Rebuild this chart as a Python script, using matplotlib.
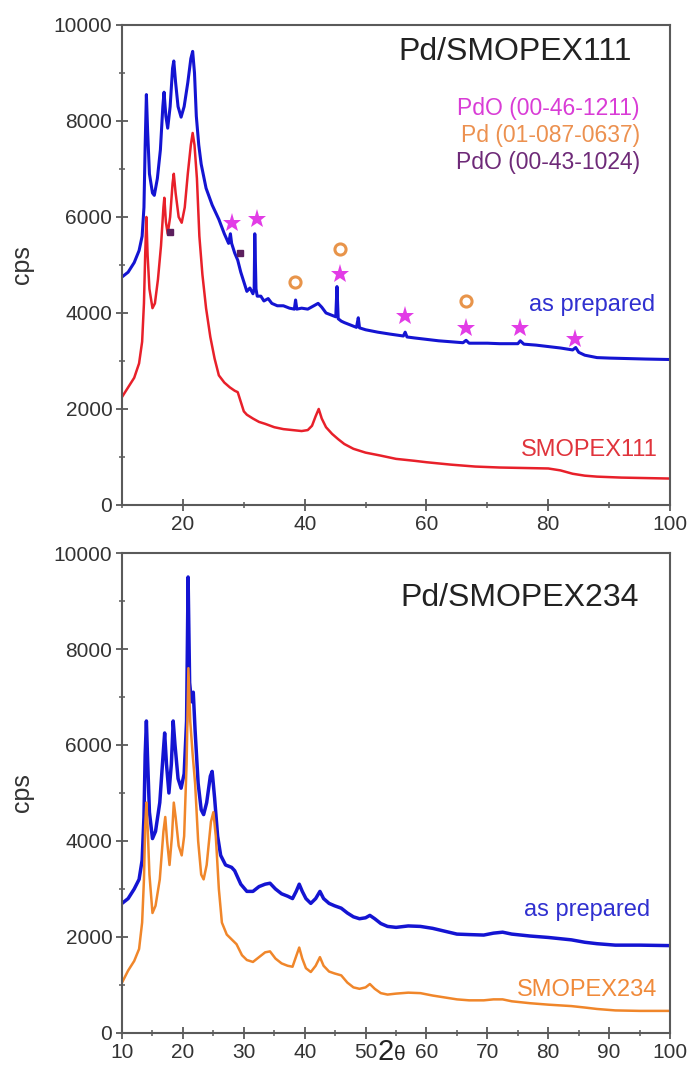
import matplotlib
matplotlib.use("Agg")
import matplotlib.pyplot as plt
from matplotlib.ticker import MultipleLocator

plt.rcParams['font.family'] = ['Liberation Sans', 'DejaVu Sans']

# ---------------- Top panel data: Pd/SMOPEX111 ----------------
top_prep_x = [10, 11, 12, 12.8, 13.3, 13.6, 13.8, 14.0, 14.2, 14.5, 15.0, 15.3, 15.8, 16.3, 16.7, 16.9,
              17.2, 17.5, 17.9, 18.3, 18.5, 18.8, 19.2, 19.7, 20.2, 20.8, 21.3, 21.6, 21.9, 22.2, 22.6,
              23.0, 23.8, 24.8, 25.9, 26.8, 27.5, 27.8, 28.0, 28.5, 29.0, 29.5, 30.0, 30.5, 31.0, 31.5,
              31.7, 31.8, 32.0, 32.2, 32.8, 33.3, 34.0, 34.6, 35.5, 36.5, 37.5, 38.3, 38.5, 38.7, 39.5,
              40.5, 41.5, 42.2, 42.8, 43.5, 44.5, 45.1, 45.3, 45.5, 46.0, 46.5, 47.5, 48.5, 48.8, 49.0,
              50, 52, 54, 56.2, 56.5, 56.8, 58, 60, 62, 64, 66, 66.5, 67, 70, 72, 75, 75.4, 76, 78, 80,
              82, 84, 84.5, 85, 86, 88, 90, 93, 96, 100]
top_prep_y = [4750, 4850, 5050, 5300, 5600, 6200, 7500, 8550, 7800, 6900, 6500, 6450, 6800, 7400, 8300, 8600,
              8100, 7850, 8300, 9100, 9250, 8800, 8300, 8080, 8300, 8800, 9300, 9450, 9000, 8100, 7500,
              7100, 6600, 6250, 5950, 5650, 5450, 5650, 5450, 5250, 5100, 4850, 4650, 4450, 4520, 4400,
              4500, 5650, 4500, 4350, 4350, 4250, 4300, 4200, 4150, 4150, 4100, 4080, 4270, 4080, 4100,
              4080, 4150, 4200, 4120, 4000, 3950, 3920, 4550, 3880, 3830, 3800, 3750, 3700, 3900, 3690,
              3650, 3600, 3560, 3520, 3600, 3500, 3480, 3450, 3420, 3400, 3380, 3430, 3370, 3370, 3360, 3360, 3420, 3350, 3330, 3300,
              3270, 3230, 3280, 3180, 3120, 3070, 3060, 3050, 3040, 3030]

top_smo_x = [10, 11, 12, 12.8, 13.3, 13.6, 13.8, 14.0, 14.2, 14.5, 15.0, 15.4, 15.9, 16.4, 16.8, 16.95,
             17.2, 17.5, 17.9, 18.3, 18.5, 18.8, 19.3, 19.8, 20.3, 20.8, 21.3, 21.6, 21.9, 22.3, 22.7,
             23.2, 23.8, 24.5, 25.2, 25.9, 26.8, 27.7, 28.5, 29.0, 29.5, 30.0, 30.5, 31.5, 32.5, 33.5,
             35, 36.5, 38, 39.5, 40.5, 41.2, 41.8, 42.3, 42.8, 43.5, 44.5, 45.5, 46.5, 48, 50, 52.4,
             55, 58, 60, 64, 68, 72, 76, 80, 82, 84, 86, 88, 92, 96, 100]
top_smo_y = [2250, 2450, 2650, 2950, 3400, 4200, 5200, 6000, 5200, 4500, 4100, 4200, 4700, 5400, 6200, 6400,
             5900, 5650, 6000, 6700, 6900, 6500, 6000, 5880, 6200, 6900, 7500, 7750, 7500, 6800, 5600,
             4800, 4100, 3500, 3050, 2700, 2550, 2450, 2380, 2350, 2150, 1950, 1880, 1800, 1730, 1690,
             1620, 1580, 1560, 1540, 1560, 1650, 1850, 2000, 1800, 1620, 1480, 1370, 1270, 1170, 1090, 1030,
             960, 920, 890, 840, 800, 780, 770, 760, 720, 650, 610, 590, 570, 560, 550]

# phase markers (positions)
pdo46_x = [28.1, 32.2, 45.8, 56.5, 66.5, 75.4, 84.4]
pdo46_y = [5880, 5950, 4820, 3930, 3680, 3680, 3450]
pd_x = [38.4, 45.8, 66.5]
pd_y = [4640, 5340, 4240]
pdo43_x = [17.8, 29.4]
pdo43_y = [5680, 5240]

# ---------------- Bottom panel data: Pd/SMOPEX234 ----------------
bot_prep_x = [10, 11, 12, 12.8, 13.3, 13.6, 13.8, 14.0, 14.2, 14.5, 15.0, 15.5, 16.2, 16.8, 17.0, 17.3,
              17.7, 18.1, 18.4, 18.7, 19.2, 19.7, 20.2, 20.6, 20.85, 21.1, 21.4, 21.7, 22.0, 22.5, 23.0,
              23.4, 23.9, 24.5, 24.8, 25.2, 25.7, 26.2, 27.0, 28.0, 28.5, 29.5, 30.5, 31.5, 32.5, 33.5,
              34.3, 35.2, 36.2, 37.2, 38.0, 38.6, 39.1, 39.6, 40.2, 41.0, 41.8, 42.5, 43.1, 44.0, 44.9,
              46.0, 47.0, 48.0, 49.0, 50.0, 50.7, 51.5, 52.5, 53.6, 55, 57, 59, 61, 63, 65, 67, 69.4,
              71, 72.5, 74, 77, 80, 83.8, 86, 88, 91, 95, 100]
bot_prep_y = [2700, 2800, 3000, 3200, 3600, 4500, 5800, 6500, 5700, 4600, 4050, 4200, 4800, 5900, 6250, 5600,
              5000, 5600, 6500, 6000, 5300, 5100, 5400, 6500, 9500, 7300, 6900, 7100, 6300, 5200, 4650,
              4550, 4800, 5350, 5450, 4900, 4100, 3700, 3500, 3450, 3380, 3100, 2950, 2950, 3050, 3100,
              3120, 3000, 2900, 2850, 2800, 2950, 3100, 2950, 2800, 2700, 2800, 2950, 2800, 2700, 2650,
              2600, 2500, 2420, 2380, 2400, 2450, 2380, 2280, 2220, 2200, 2230, 2220, 2180, 2120, 2060, 2050, 2040,
              2080, 2100, 2060, 2020, 1990, 1940, 1890, 1860, 1830, 1830, 1820]

bot_smo_x = [10, 11, 12, 12.8, 13.3, 13.6, 13.8, 14.0, 14.2, 14.5, 15.0, 15.5, 16.2, 16.8, 17.1, 17.4,
             17.8, 18.2, 18.5, 18.8, 19.3, 19.8, 20.2, 20.6, 20.9, 21.2, 21.6, 22.0, 22.5, 23.0, 23.4,
             23.9, 24.6, 25.0, 25.4, 25.9, 26.4, 27.2, 28.0, 28.8, 29.7, 30.5, 31.5, 32.5, 33.5, 34.3,
             35.2, 36.2, 37.2, 38.0, 38.6, 39.1, 39.6, 40.2, 41.0, 41.8, 42.5, 43.1, 44.0, 44.9, 46.0,
             47.0, 48.0, 49.0, 50.0, 50.7, 51.5, 52.5, 53.6, 55, 57, 59, 61, 63, 65, 67, 69.4, 71, 72.5,
             74, 77, 80, 83.8, 86, 88, 91, 95, 100]
bot_smo_y = [1050, 1300, 1500, 1750, 2300, 3200, 4300, 4800, 4300, 3300, 2500, 2650, 3200, 4200, 4500, 4000,
             3500, 4100, 4800, 4500, 3900, 3700, 4100, 5600, 7600, 6500, 5800, 5200, 4000, 3300, 3200,
             3500, 4400, 4600, 4100, 3000, 2300, 2050, 1950, 1850, 1620, 1520, 1480, 1580, 1680, 1700,
             1550, 1450, 1400, 1380, 1600, 1780, 1550, 1350, 1270, 1400, 1580, 1400, 1280, 1240, 1200,
             1050, 950, 920, 950, 1020, 920, 830, 800, 820, 840, 830, 780, 740, 700, 680, 680, 700, 700,
             660, 620, 590, 560, 530, 500, 470, 460, 460]

x_min, x_max = 10, 100
y_min, y_max = 0, 10000

BLUE = '#1414d2'
RED = '#e8202a'
ORANGE = '#f0862a'
MAGENTA = '#e23ce6'
PURPLE = '#5c1f5e'
SPINE = '#5a5a5a'

fig = plt.figure(figsize=(6.91, 10.68), dpi=100)
ax1 = fig.add_axes([0.1766, 0.5272, 0.7931, 0.4494])
ax2 = fig.add_axes([0.1766, 0.0328, 0.7931, 0.4494])


def style(ax, major_x, minor_x):
    ax.set_xlim(x_min, x_max)
    ax.set_ylim(y_min, y_max)
    ax.xaxis.set_major_locator(MultipleLocator(major_x))
    ax.xaxis.set_minor_locator(MultipleLocator(minor_x))
    ax.yaxis.set_major_locator(MultipleLocator(2000))
    ax.yaxis.set_minor_locator(MultipleLocator(1000))
    for s in ax.spines.values():
        s.set_color(SPINE)
        s.set_linewidth(1.5)
    ax.tick_params(which='major', direction='inout', length=8, width=1.3, color=SPINE,
                   labelsize=15, labelcolor='#333333', pad=3)
    ax.tick_params(which='minor', direction='inout', length=5, width=1.1, color=SPINE)
    ax.set_ylabel('cps', fontsize=18, color='#333333', labelpad=14)


# top panel
ax1.plot(top_prep_x, top_prep_y, color=BLUE, lw=2.2)
ax1.plot(top_smo_x, top_smo_y, color=RED, lw=1.8)
ax1.plot(pdo46_x, pdo46_y, linestyle='none', marker='*', markersize=14, color=MAGENTA, markeredgewidth=0)
ax1.plot(pd_x, pd_y, linestyle='none', marker='o', markersize=8, markerfacecolor='none',
         markeredgecolor='#e8944a', markeredgewidth=2.2)
ax1.plot(pdo43_x, pdo43_y, linestyle='none', marker='s', markersize=4, color=PURPLE)
style(ax1, 20, 10)
ax1.set_xticks([20, 40, 60, 80, 100])

ax1.text(0.717, 0.944, 'Pd/SMOPEX111', transform=ax1.transAxes, ha='center', va='center',
         fontsize=23, color='#222222')
ax1.text(0.945, 0.825, 'PdO (00-46-1211)', transform=ax1.transAxes, ha='right', va='center',
         fontsize=16.5, color='#d93cd6')
ax1.text(0.945, 0.769, 'Pd (01-087-0637)', transform=ax1.transAxes, ha='right', va='center',
         fontsize=16.5, color='#ec9150')
ax1.text(0.945, 0.713, 'PdO (00-43-1024)', transform=ax1.transAxes, ha='right', va='center',
         fontsize=16.5, color='#6e2a78')
ax1.text(0.973, 0.416, 'as prepared', transform=ax1.transAxes, ha='right', va='center',
         fontsize=17, color='#3030d0')
ax1.text(0.978, 0.114, 'SMOPEX111', transform=ax1.transAxes, ha='right', va='center',
         fontsize=17, color='#e0343c')

# bottom panel
ax2.plot(bot_prep_x, bot_prep_y, color=BLUE, lw=2.5)
ax2.plot(bot_smo_x, bot_smo_y, color=ORANGE, lw=1.8)
style(ax2, 10, 5)

ax2.text(0.726, 0.906, 'Pd/SMOPEX234', transform=ax2.transAxes, ha='center', va='center',
         fontsize=23, color='#222222')
ax2.text(0.964, 0.256, 'as prepared', transform=ax2.transAxes, ha='right', va='center',
         fontsize=17, color='#3030d0')
ax2.text(0.976, 0.09, 'SMOPEX234', transform=ax2.transAxes, ha='right', va='center',
         fontsize=17, color='#f08a3a')
ax2.text(54.6, -560, '2', ha='right', va='baseline', fontsize=21, color='#222222', clip_on=False)
ax2.text(54.6, -560, 'θ', ha='left', va='baseline', fontsize=15, color='#222222', clip_on=False)

fig.savefig('out.png', dpi=100)
